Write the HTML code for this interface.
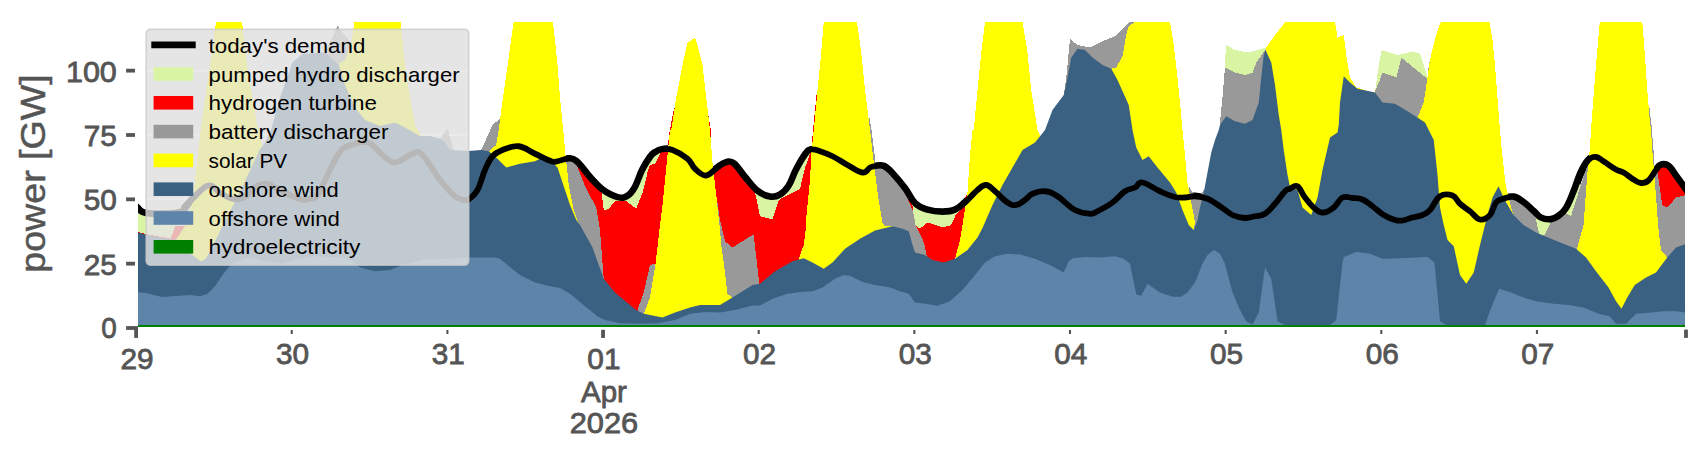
<!DOCTYPE html>
<html><head><meta charset="utf-8"><title>power dispatch</title>
<style>html,body{margin:0;padding:0;background:#ffffff}svg{display:block}text{font-family:"Liberation Sans",sans-serif}</style></head><body>
<svg width="1706" height="460" viewBox="0 0 1706 460">
<defs><clipPath id="plot"><rect x="138" y="22" width="1547" height="305"/></clipPath></defs>
<rect x="0" y="0" width="1706" height="460" fill="#ffffff"/>
<g clip-path="url(#plot)" shape-rendering="crispEdges">
<rect x="146.2" y="29.4" width="322.5" height="235.7" rx="4" fill="#e5e5e5"/>
<line x1="146.2" x2="468.7" y1="70.7" y2="70.7" stroke="#ffffff" stroke-width="2.2"/>
<line x1="146.2" x2="468.7" y1="135.0" y2="135.0" stroke="#ffffff" stroke-width="2.2"/>
<line x1="146.2" x2="468.7" y1="199.3" y2="199.3" stroke="#ffffff" stroke-width="2.2"/>
<line x1="146.2" x2="468.7" y1="263.7" y2="263.7" stroke="#ffffff" stroke-width="2.2"/>
<path d="M132.00,203.00C133.00,203.90 134.00,205.40 137.00,207.50C140.00,209.60 138.50,212.50 147.00,213.50C155.50,214.50 171.50,214.20 179.50,212.50C187.50,210.80 181.50,210.30 187.00,205.00C192.50,199.70 200.50,188.50 207.00,186.00C213.50,183.50 214.50,189.95 219.50,192.50C224.50,195.05 227.00,197.75 232.00,198.75C237.00,199.75 240.00,199.75 244.50,197.50C249.00,195.25 250.25,190.25 254.50,187.50C258.75,184.75 261.25,183.50 265.75,183.75C270.25,184.00 271.75,186.30 277.00,188.75C282.25,191.20 286.90,193.75 292.00,196.00C297.10,198.25 299.00,199.45 302.50,200.00C306.00,200.55 306.50,199.75 309.50,198.75C312.50,197.75 313.40,200.75 317.50,195.00C321.60,189.25 325.60,178.50 330.00,170.00C334.40,161.50 336.00,157.25 339.50,152.50C343.00,147.75 341.90,148.25 347.50,146.25C353.10,144.25 360.50,140.75 367.50,142.50C374.50,144.25 377.00,151.00 382.50,155.00C388.00,159.00 389.00,162.75 395.00,162.50C401.00,162.25 407.00,155.25 412.50,153.75C418.00,152.25 417.00,149.75 422.50,155.00C428.00,160.25 433.50,171.75 440.00,180.00C446.50,188.25 450.00,192.25 455.00,196.25C460.00,200.25 462.10,199.50 465.00,200.00C467.90,200.50 467.00,200.75 469.50,198.75C472.00,196.75 474.40,195.75 477.50,190.00C480.60,184.25 482.00,176.75 485.00,170.00C488.00,163.25 489.00,160.25 492.50,156.25C496.00,152.25 497.25,152.00 502.50,150.00C507.75,148.00 512.25,145.50 518.75,146.25C525.25,147.00 528.50,150.75 535.00,153.75C541.50,156.75 546.75,159.75 551.25,161.25C555.75,162.75 554.25,161.75 557.50,161.25C560.75,160.75 563.75,158.75 567.50,158.75C571.25,158.75 571.75,157.50 576.25,161.25C580.75,165.00 584.75,171.75 590.00,177.50C595.25,183.25 597.00,186.00 602.50,190.00C608.00,194.00 612.50,196.25 617.50,197.50C622.50,198.75 624.00,198.25 627.50,196.25C631.00,194.25 632.00,192.75 635.00,187.50C638.00,182.25 639.50,176.00 642.50,170.00C645.50,164.00 647.50,161.00 650.00,157.50C652.50,154.00 652.50,154.10 655.00,152.50C657.50,150.90 659.00,150.00 662.50,149.50C666.00,149.00 667.50,148.15 672.50,150.00C677.50,151.85 683.00,155.00 687.50,158.75C692.00,162.50 691.30,165.40 695.00,168.75C698.70,172.10 701.50,175.75 706.00,175.50C710.50,175.25 713.45,170.10 717.50,167.50C721.55,164.90 723.00,163.25 726.25,162.50C729.50,161.75 730.00,160.75 733.75,163.75C737.50,166.75 740.25,172.00 745.00,177.50C749.75,183.00 752.50,187.35 757.50,191.25C762.50,195.15 765.50,196.25 770.00,197.00C774.50,197.75 776.25,197.15 780.00,195.00C783.75,192.85 785.50,191.25 788.75,186.25C792.00,181.25 793.00,176.25 796.25,170.00C799.50,163.75 802.00,159.10 805.00,155.00C808.00,150.90 808.25,150.25 811.25,149.50C814.25,148.75 815.75,149.90 820.00,151.25C824.25,152.60 827.00,153.50 832.50,156.25C838.00,159.00 841.50,161.75 847.50,165.00C853.50,168.25 858.00,172.00 862.50,172.50C867.00,173.00 867.50,168.75 870.00,167.50C872.50,166.25 872.25,166.50 875.00,166.25C877.75,166.00 880.25,164.75 883.75,166.25C887.25,167.75 888.25,169.25 892.50,173.75C896.75,178.25 900.50,182.75 905.00,188.75C909.50,194.75 910.50,199.50 915.00,203.75C919.50,208.00 922.00,208.35 927.50,210.00C933.00,211.65 937.00,212.00 942.50,212.00C948.00,212.00 950.50,211.90 955.00,210.00C959.50,208.10 960.50,206.50 965.00,202.50C969.50,198.50 973.25,193.50 977.50,190.00C981.75,186.50 982.75,184.75 986.25,185.00C989.75,185.25 990.75,187.75 995.00,191.25C999.25,194.75 1003.25,199.75 1007.50,202.50C1011.75,205.25 1012.75,205.50 1016.25,205.00C1019.75,204.50 1021.75,202.25 1025.00,200.00C1028.25,197.75 1028.50,195.50 1032.50,193.75C1036.50,192.00 1040.00,190.75 1045.00,191.25C1050.00,191.75 1051.50,192.50 1057.50,196.25C1063.50,200.00 1068.50,206.50 1075.00,210.00C1081.50,213.50 1085.50,213.50 1090.00,213.75C1094.50,214.00 1093.00,213.50 1097.50,211.25C1102.00,209.00 1107.00,206.50 1112.50,202.50C1118.00,198.50 1120.50,194.25 1125.00,191.25C1129.50,188.25 1131.50,189.25 1135.00,187.50C1138.50,185.75 1137.50,181.75 1142.50,182.50C1147.50,183.25 1153.50,188.35 1160.00,191.25C1166.50,194.15 1170.00,195.75 1175.00,197.00C1180.00,198.25 1181.00,197.65 1185.00,197.50C1189.00,197.35 1190.50,196.00 1195.00,196.25C1199.50,196.50 1202.50,196.75 1207.50,198.75C1212.50,200.75 1215.00,203.00 1220.00,206.25C1225.00,209.50 1227.50,212.65 1232.50,215.00C1237.50,217.35 1240.50,217.75 1245.00,218.00C1249.50,218.25 1251.00,217.10 1255.00,216.25C1259.00,215.40 1261.00,216.25 1265.00,213.75C1269.00,211.25 1271.00,208.25 1275.00,203.75C1279.00,199.25 1282.00,194.25 1285.00,191.25C1288.00,188.25 1287.50,189.75 1290.00,188.75C1292.50,187.75 1294.50,184.50 1297.50,186.25C1300.50,188.00 1301.50,193.00 1305.00,197.50C1308.50,202.00 1311.25,205.75 1315.00,208.75C1318.75,211.75 1320.00,212.75 1323.75,212.50C1327.50,212.25 1330.00,210.50 1333.75,207.50C1337.50,204.50 1338.75,199.40 1342.50,197.50C1346.25,195.60 1348.50,197.60 1352.50,198.00C1356.50,198.40 1358.50,197.85 1362.50,199.50C1366.50,201.15 1368.25,203.15 1372.50,206.25C1376.75,209.35 1379.25,212.25 1383.75,215.00C1388.25,217.75 1391.25,218.90 1395.00,220.00C1398.75,221.10 1399.00,221.00 1402.50,220.50C1406.00,220.00 1408.50,218.60 1412.50,217.50C1416.50,216.40 1419.00,216.50 1422.50,215.00C1426.00,213.50 1426.50,213.75 1430.00,210.00C1433.50,206.25 1435.50,199.15 1440.00,196.25C1444.50,193.35 1448.50,194.00 1452.50,195.50C1456.50,197.00 1456.50,200.60 1460.00,203.75C1463.50,206.90 1466.00,208.10 1470.00,211.25C1474.00,214.40 1476.00,218.75 1480.00,219.50C1484.00,220.25 1486.80,218.40 1490.00,215.00C1493.20,211.60 1493.30,205.75 1496.00,202.50C1498.70,199.25 1500.00,199.85 1503.50,198.75C1507.00,197.65 1509.50,196.25 1513.50,197.00C1517.50,197.75 1519.50,199.65 1523.50,202.50C1527.50,205.35 1530.00,208.15 1533.50,211.25C1537.00,214.35 1537.50,216.35 1541.00,218.00C1544.50,219.65 1547.50,219.85 1551.00,219.50C1554.50,219.15 1555.50,218.40 1558.50,216.25C1561.50,214.10 1563.00,213.50 1566.00,208.75C1569.00,204.00 1570.50,199.75 1573.50,192.50C1576.50,185.25 1578.00,179.00 1581.00,172.50C1584.00,166.00 1585.50,163.10 1588.50,160.00C1591.50,156.90 1593.00,156.75 1596.00,157.00C1599.00,157.25 1599.50,158.75 1603.50,161.25C1607.50,163.75 1612.00,167.25 1616.00,169.50C1620.00,171.75 1620.00,170.50 1623.50,172.50C1627.00,174.50 1630.00,177.40 1633.50,179.50C1637.00,181.60 1638.00,182.80 1641.00,183.00C1644.00,183.20 1645.50,183.10 1648.50,180.50C1651.50,177.90 1653.50,173.10 1656.00,170.00C1658.50,166.90 1658.50,165.75 1661.00,165.00C1663.50,164.25 1665.50,164.00 1668.50,166.25C1671.50,168.50 1672.50,171.50 1676.00,176.25C1679.50,181.00 1683.20,186.05 1686.00,190.00C1688.80,193.95 1689.20,194.80 1690.00,196.00" fill="none" stroke="#000000" stroke-width="7.4" stroke-linejoin="round" shape-rendering="geometricPrecision"/>
<polygon points="132.00,203.00 137.00,207.50 147.00,213.50 177.00,212.58 177.00,225.00 177.00,330.00 132.00,330.00" fill="#d9f5a4"/>
<polygon points="598.00,185.50 602.50,190.00 617.50,197.50 627.50,196.25 635.00,187.50 642.50,170.00 650.00,157.50 655.00,152.50 660.00,150.50 660.00,330.00 598.00,330.00" fill="#d9f5a4"/>
<polygon points="752.00,185.20 757.50,191.25 770.00,197.00 780.00,195.00 788.75,186.25 796.25,170.00 805.00,155.00 809.50,151.04 809.50,330.00 752.00,330.00" fill="#d9f5a4"/>
<polygon points="910.00,196.25 915.00,203.75 927.50,210.00 942.50,212.00 955.00,210.00 965.00,202.50 967.00,200.50 967.00,330.00 910.00,330.00" fill="#d9f5a4"/>
<polygon points="1224.50,65.00 1226.25,45.00 1235.00,50.00 1247.50,52.50 1257.50,50.00 1266.25,47.50 1267.00,47.50 1267.00,330.00 1224.50,330.00" fill="#d9f5a4"/>
<polygon points="1375.00,91.25 1378.75,65.00 1381.75,50.00 1390.00,52.50 1397.50,55.00 1412.50,51.25 1420.00,53.75 1423.75,65.00 1427.50,77.50 1428.00,77.50 1428.00,330.00 1375.00,330.00" fill="#d9f5a4"/>
<polygon points="1531.00,209.06 1533.50,211.25 1541.00,218.00 1551.00,219.50 1558.50,216.25 1566.00,208.75 1573.50,192.50 1580.00,175.17 1580.00,330.00 1531.00,330.00" fill="#d9f5a4"/>
<polygon points="130.00,231.50 136.00,231.50 146.60,234.20 170.70,238.60 175.30,226.40 184.50,225.50 186.00,225.50 186.00,330.00 130.00,330.00" fill="#ff0000"/>
<polygon points="573.00,160.32 576.25,161.25 590.00,177.50 601.00,188.50 603.75,210.50 608.75,208.75 615.00,201.25 626.25,201.25 636.25,208.75 642.50,192.50 647.50,172.50 650.00,165.00 655.00,163.75 658.75,156.25 662.50,150.00 667.50,150.00 669.00,135.00 674.00,108.00 675.00,108.00 675.00,330.00 573.00,330.00" fill="#ff0000"/>
<polygon points="707.30,108.00 710.80,130.00 711.50,171.67 717.50,167.50 726.25,162.50 733.75,163.75 745.00,177.50 754.00,187.40 760.00,216.25 772.50,219.50 778.75,200.00 792.50,192.50 800.00,188.75 805.00,167.50 808.75,157.50 811.25,150.00 813.00,130.00 816.50,95.00 817.50,95.00 817.50,330.00 707.30,330.00" fill="#ff0000"/>
<polygon points="878.00,166.25 883.75,166.25 892.50,173.75 905.00,188.75 912.00,199.25 913.75,223.75 920.00,228.75 927.50,222.50 942.50,227.50 951.25,225.00 956.25,213.75 962.50,207.50 965.00,197.50 967.50,193.00 968.00,193.00 968.00,330.00 878.00,330.00" fill="#ff0000"/>
<polygon points="1654.00,172.80 1656.00,170.00 1661.00,165.00 1668.50,166.25 1676.00,176.25 1686.00,190.00 1690.00,196.00 1690.00,330.00 1654.00,330.00" fill="#ff0000"/>
<polygon points="320.00,54.00 325.00,52.50 337.50,26.25 351.25,43.00 353.00,43.00 353.00,330.00 320.00,330.00" fill="#999999"/>
<polygon points="440.00,138.75 447.50,128.75 453.75,150.00 453.75,330.00 440.00,330.00" fill="#999999"/>
<polygon points="481.25,150.00 492.50,125.00 500.00,118.75 501.00,118.75 501.00,330.00 481.25,330.00" fill="#999999"/>
<polygon points="563.00,140.00 565.00,150.00 566.00,159.12 567.50,158.75 575.00,160.89 585.00,186.25 596.25,207.50 600.00,230.00 603.75,278.75 603.75,330.00 563.00,330.00" fill="#999999"/>
<polygon points="637.50,310.00 643.75,292.50 650.00,265.00 655.50,263.75 655.50,330.00 637.50,330.00" fill="#999999"/>
<polygon points="714.00,180.00 716.25,195.00 720.00,220.00 725.00,241.25 732.50,247.50 752.50,235.00 753.75,235.00 759.25,283.75 759.25,330.00 714.00,330.00" fill="#999999"/>
<polygon points="869.00,115.00 871.50,130.00 875.00,158.00 875.50,166.25 883.75,166.25 892.50,173.75 893.00,174.35 906.00,195.00 913.00,211.00 915.50,225.00 919.50,232.50 923.00,240.00 924.50,245.00 926.50,255.00 926.50,330.00 869.00,330.00" fill="#999999"/>
<polygon points="1063.75,95.00 1066.25,77.50 1070.00,38.75 1077.50,45.00 1090.00,47.50 1102.50,41.25 1115.00,36.25 1122.50,28.75 1128.75,22.50 1135.00,21.50 1135.50,21.50 1135.50,330.00 1063.75,330.00" fill="#999999"/>
<polygon points="1188.75,185.00 1192.50,193.00 1200.00,195.00 1203.75,190.00 1203.75,330.00 1188.75,330.00" fill="#999999"/>
<polygon points="1219.50,130.00 1220.00,122.50 1222.50,97.50 1225.00,67.50 1235.00,72.50 1245.00,75.00 1252.50,72.50 1256.25,62.50 1262.50,53.75 1266.25,48.75 1266.25,330.00 1219.50,330.00" fill="#999999"/>
<polygon points="1375.00,91.25 1378.75,82.50 1382.50,72.50 1396.25,77.50 1401.25,57.50 1415.00,68.75 1427.50,78.75 1428.75,65.00 1433.75,43.75 1434.00,43.75 1434.00,330.00 1375.00,330.00" fill="#999999"/>
<polygon points="1500.00,130.00 1502.25,155.00 1505.00,185.00 1505.50,198.40 1513.50,197.00 1523.50,202.50 1533.50,211.25 1534.00,211.70 1539.75,236.25 1544.75,235.00 1551.00,221.25 1566.00,213.75 1571.00,216.25 1578.50,192.50 1588.50,162.50 1589.75,150.00 1591.00,130.00 1592.00,130.00 1592.00,330.00 1500.00,330.00" fill="#999999"/>
<polygon points="1648.50,100.00 1651.50,125.00 1653.50,150.00 1654.50,172.10 1656.00,170.00 1657.00,169.00 1662.25,205.00 1667.25,207.50 1676.00,197.50 1686.00,195.00 1690.00,195.00 1690.00,330.00 1648.50,330.00" fill="#999999"/>
<polygon points="176.20,239.40 185.50,225.50 192.90,200.50 198.25,150.00 200.75,130.00 204.50,102.50 212.00,52.50 216.00,22.00 217.00,15.00 241.00,15.00 242.00,22.00 247.00,65.00 254.50,110.00 257.00,125.00 262.00,145.00 262.00,330.00 176.20,330.00" fill="#ffff00"/>
<polygon points="338.75,63.75 345.00,60.00 351.25,43.00 354.50,22.00 355.20,15.00 400.00,15.00 400.75,22.00 405.00,65.00 410.00,97.50 415.00,125.00 421.25,136.00 421.25,330.00 338.75,330.00" fill="#ffff00"/>
<polygon points="488.75,151.25 496.25,145.00 498.75,130.00 501.25,110.00 504.60,86.80 513.60,22.00 514.50,15.00 552.50,15.00 553.00,22.00 555.00,40.00 557.50,65.00 560.00,97.50 563.75,135.00 565.00,150.00 568.75,185.00 573.75,210.00 577.50,221.00 580.00,226.00 580.00,330.00 488.75,330.00" fill="#ffff00"/>
<polygon points="643.75,313.75 650.00,297.50 655.50,263.75 657.70,245.00 660.00,225.00 662.50,205.00 667.50,155.00 670.00,130.00 671.25,130.00 676.25,97.50 682.50,65.00 687.50,42.50 692.00,39.50 695.00,38.00 697.50,45.00 702.50,65.00 706.25,97.50 710.00,130.00 712.50,162.50 716.25,195.00 720.00,230.00 721.25,245.00 723.75,262.50 727.50,293.75 732.50,297.50 732.50,330.00 643.75,330.00" fill="#ffff00"/>
<polygon points="798.75,258.75 803.75,245.00 806.25,225.00 806.25,217.50 810.00,180.00 811.25,155.00 813.75,130.00 817.50,90.00 821.25,52.50 823.75,22.00 824.30,15.00 856.30,15.00 857.00,22.00 861.25,52.50 865.00,90.00 870.00,130.00 873.75,162.50 877.50,192.50 882.50,222.50 885.00,226.25 892.50,226.25 892.50,330.00 798.75,330.00" fill="#ffff00"/>
<polygon points="955.00,258.75 960.00,240.00 962.50,225.00 967.50,192.50 970.00,155.00 972.50,130.00 973.75,130.00 977.50,90.00 981.25,52.50 985.00,22.00 985.80,15.00 1021.50,15.00 1022.50,22.00 1027.50,52.50 1031.25,90.00 1037.50,130.00 1041.00,137.00 1041.00,330.00 955.00,330.00" fill="#ffff00"/>
<polygon points="1111.25,68.75 1116.25,67.50 1122.50,56.25 1126.25,35.00 1128.75,26.00 1135.00,22.00 1135.50,15.00 1169.50,15.00 1170.00,22.00 1173.75,45.00 1177.50,77.50 1180.00,102.50 1182.50,130.00 1185.00,155.00 1187.50,182.50 1191.25,202.50 1195.00,222.50 1193.75,230.00 1193.75,330.00 1111.25,330.00" fill="#ffff00"/>
<polygon points="1265.50,50.00 1266.25,47.50 1275.00,35.00 1285.00,22.50 1290.00,15.00 1334.00,15.00 1335.00,22.00 1337.50,37.50 1343.75,35.00 1346.25,55.00 1350.00,77.50 1356.25,87.50 1372.50,92.50 1375.00,92.00 1375.00,330.00 1265.50,330.00" fill="#ffff00"/>
<polygon points="1417.50,117.50 1423.75,102.50 1427.50,77.50 1430.00,60.00 1433.75,43.75 1435.00,38.75 1440.00,23.75 1441.25,22.00 1443.00,15.00 1488.50,15.00 1489.50,22.00 1492.50,40.00 1495.00,65.00 1497.50,97.50 1500.00,130.00 1502.25,155.00 1506.00,187.50 1511.00,207.50 1513.50,215.00 1513.50,330.00 1417.50,330.00" fill="#ffff00"/>
<polygon points="1577.25,247.50 1583.50,225.00 1587.25,175.00 1589.75,150.00 1591.00,130.00 1593.50,97.50 1596.00,65.00 1599.75,22.00 1600.30,15.00 1641.70,15.00 1642.25,22.00 1644.75,52.50 1647.25,90.00 1649.75,120.00 1651.00,130.00 1652.25,150.00 1654.75,180.00 1657.25,212.50 1658.00,225.00 1661.00,250.00 1667.25,257.50 1667.25,330.00 1577.25,330.00" fill="#ffff00"/>
<polygon points="130.00,232.00 136.00,232.00 146.60,234.70 170.70,239.40 176.20,239.40 191.00,254.00 201.00,261.50 205.80,258.80 216.90,237.50 229.50,212.50 242.00,187.50 259.50,150.00 265.00,142.50 271.00,130.00 280.00,97.50 292.50,62.50 302.50,53.75 325.00,52.50 332.50,58.75 338.75,65.00 345.00,85.00 355.00,107.50 365.00,120.00 380.00,126.00 395.00,122.50 405.00,127.50 420.00,136.00 430.00,136.00 440.00,138.75 445.00,142.50 450.00,150.00 468.75,151.00 481.25,150.00 488.75,151.25 497.50,158.75 506.25,167.50 520.00,163.75 535.00,161.25 542.50,157.50 550.00,160.00 557.50,167.50 562.50,182.50 570.00,205.00 576.25,220.00 580.00,225.00 592.50,247.50 603.75,278.75 615.00,292.50 636.00,310.00 643.75,313.75 662.50,317.50 675.00,312.50 690.00,307.50 700.00,305.00 720.00,305.00 732.50,297.50 752.50,285.00 760.00,283.75 775.00,271.25 792.50,261.25 803.75,258.25 812.50,262.50 823.75,268.75 832.50,262.50 845.00,248.75 860.00,238.75 875.00,230.50 892.50,226.25 902.50,228.75 908.75,231.25 912.50,245.00 915.00,252.50 925.00,255.00 932.50,260.00 943.75,262.50 955.00,258.75 967.50,250.00 977.50,237.50 982.50,228.00 992.50,205.00 1002.50,185.00 1012.50,167.50 1022.50,150.00 1035.00,142.50 1045.00,130.00 1052.50,110.00 1063.75,95.00 1067.50,77.50 1071.25,57.50 1077.50,48.75 1085.00,50.00 1092.50,57.50 1102.50,65.00 1111.25,68.75 1117.50,80.00 1128.75,105.00 1132.50,130.00 1136.25,147.50 1142.50,160.00 1148.75,156.25 1157.50,167.50 1170.00,182.50 1176.25,192.50 1182.50,210.00 1188.75,225.00 1193.75,230.00 1197.50,220.00 1200.00,207.50 1203.75,192.50 1207.50,172.50 1211.25,152.50 1215.00,140.00 1218.75,130.00 1220.00,125.00 1226.25,116.25 1235.00,121.25 1245.00,123.75 1252.50,120.00 1258.75,102.50 1261.25,77.50 1263.75,55.00 1265.50,50.00 1271.25,62.50 1275.00,85.00 1278.75,115.00 1281.25,130.00 1283.75,150.00 1287.50,175.00 1290.00,187.00 1297.50,190.00 1302.50,207.50 1311.25,215.00 1317.50,197.50 1322.50,170.00 1330.00,137.50 1337.50,132.50 1338.75,125.00 1340.00,102.50 1343.75,76.25 1350.00,82.50 1357.50,88.75 1375.00,92.50 1382.50,102.50 1395.00,103.75 1407.50,111.25 1417.50,117.50 1425.00,122.50 1428.75,130.00 1433.75,140.00 1437.50,175.00 1440.00,207.50 1443.75,225.00 1447.50,240.00 1453.75,246.25 1460.00,275.00 1466.25,283.75 1473.75,272.50 1480.00,245.00 1485.00,225.00 1487.50,215.00 1492.50,197.50 1498.50,186.25 1504.75,200.00 1513.50,215.00 1523.50,225.00 1536.00,232.50 1551.00,238.75 1576.00,248.75 1586.00,257.50 1596.00,271.25 1608.50,287.50 1616.00,301.25 1621.50,308.75 1627.25,297.50 1634.75,285.00 1646.00,277.50 1656.00,272.50 1667.25,257.50 1676.00,247.50 1686.00,243.75 1690.00,243.75 1690.00,330.00 130.00,330.00" fill="#3b6182" shape-rendering="geometricPrecision"/>
<polygon points="130.00,292.00 136.00,292.00 146.00,293.00 162.00,297.00 190.00,295.00 200.00,296.25 207.50,293.75 215.00,286.25 222.50,275.00 232.50,262.50 250.00,257.50 265.00,261.25 282.50,263.75 297.50,258.75 315.00,256.25 340.00,257.50 352.50,261.25 360.00,267.50 375.00,271.25 390.00,270.00 405.00,264.00 425.00,259.50 450.00,258.75 468.75,257.50 495.00,257.50 500.00,258.75 507.50,265.00 520.00,275.00 535.00,282.50 550.00,286.25 560.00,288.00 570.00,293.75 585.00,306.25 597.50,316.25 605.00,320.00 620.00,323.25 640.00,323.75 657.50,323.25 675.00,320.00 690.00,313.75 705.00,312.00 720.00,312.50 735.00,310.00 752.50,305.50 760.00,305.50 772.50,298.75 787.50,293.75 800.00,292.00 812.50,291.25 822.50,287.50 835.00,278.75 843.75,275.00 850.00,275.75 862.50,282.00 875.00,285.00 890.00,287.50 900.00,291.25 908.75,293.75 915.00,302.50 925.00,303.75 937.50,305.75 950.00,301.25 962.50,290.00 975.00,275.00 985.00,262.50 995.00,256.25 1007.50,253.75 1020.00,254.50 1035.00,258.75 1050.00,265.00 1063.75,272.50 1068.75,261.25 1072.50,258.25 1085.00,257.00 1100.00,257.50 1115.00,256.25 1123.75,258.75 1130.00,263.75 1136.25,294.50 1141.25,295.75 1147.50,283.75 1160.00,292.50 1172.50,296.75 1181.25,296.75 1187.50,292.50 1195.00,282.50 1202.50,263.75 1207.50,255.00 1213.75,250.00 1220.00,253.75 1225.00,263.75 1232.50,292.50 1240.00,310.00 1246.25,321.25 1252.50,324.50 1258.75,312.50 1265.00,267.50 1271.25,278.75 1277.50,321.25 1285.00,325.00 1330.00,325.00 1336.25,320.00 1342.50,262.50 1343.75,257.00 1356.25,252.00 1370.00,253.75 1382.50,258.75 1400.00,258.25 1417.50,257.50 1427.50,257.00 1434.50,262.50 1440.00,321.25 1446.25,325.00 1485.00,325.00 1490.00,311.00 1499.00,288.75 1511.00,292.50 1523.50,297.50 1536.00,301.25 1553.50,303.75 1568.50,305.00 1583.50,307.50 1598.50,313.75 1609.75,316.25 1616.00,323.75 1626.00,323.75 1636.00,313.75 1651.00,312.50 1663.50,311.25 1676.00,311.25 1686.00,312.50 1690.00,312.50 1690.00,330.00 130.00,330.00" fill="#5d85a9" shape-rendering="geometricPrecision"/>
<rect x="130" y="324.8" width="1560" height="6" fill="#008000"/>
</g>
<g clip-path="url(#plot)">
<path d="M132.00,203.00C133.00,203.90 134.00,205.40 137.00,207.50C140.00,209.60 138.50,212.50 147.00,213.50C155.50,214.50 171.50,214.20 179.50,212.50C187.50,210.80 181.50,210.30 187.00,205.00C192.50,199.70 200.50,188.50 207.00,186.00C213.50,183.50 214.50,189.95 219.50,192.50C224.50,195.05 227.00,197.75 232.00,198.75C237.00,199.75 240.00,199.75 244.50,197.50C249.00,195.25 250.25,190.25 254.50,187.50C258.75,184.75 261.25,183.50 265.75,183.75C270.25,184.00 271.75,186.30 277.00,188.75C282.25,191.20 286.90,193.75 292.00,196.00C297.10,198.25 299.00,199.45 302.50,200.00C306.00,200.55 306.50,199.75 309.50,198.75C312.50,197.75 313.40,200.75 317.50,195.00C321.60,189.25 325.60,178.50 330.00,170.00C334.40,161.50 336.00,157.25 339.50,152.50C343.00,147.75 341.90,148.25 347.50,146.25C353.10,144.25 360.50,140.75 367.50,142.50C374.50,144.25 377.00,151.00 382.50,155.00C388.00,159.00 389.00,162.75 395.00,162.50C401.00,162.25 407.00,155.25 412.50,153.75C418.00,152.25 417.00,149.75 422.50,155.00C428.00,160.25 433.50,171.75 440.00,180.00C446.50,188.25 450.00,192.25 455.00,196.25C460.00,200.25 462.10,199.50 465.00,200.00C467.90,200.50 467.00,200.75 469.50,198.75C472.00,196.75 474.40,195.75 477.50,190.00C480.60,184.25 482.00,176.75 485.00,170.00C488.00,163.25 489.00,160.25 492.50,156.25C496.00,152.25 497.25,152.00 502.50,150.00C507.75,148.00 512.25,145.50 518.75,146.25C525.25,147.00 528.50,150.75 535.00,153.75C541.50,156.75 546.75,159.75 551.25,161.25C555.75,162.75 554.25,161.75 557.50,161.25C560.75,160.75 563.75,158.75 567.50,158.75C571.25,158.75 571.75,157.50 576.25,161.25C580.75,165.00 584.75,171.75 590.00,177.50C595.25,183.25 597.00,186.00 602.50,190.00C608.00,194.00 612.50,196.25 617.50,197.50C622.50,198.75 624.00,198.25 627.50,196.25C631.00,194.25 632.00,192.75 635.00,187.50C638.00,182.25 639.50,176.00 642.50,170.00C645.50,164.00 647.50,161.00 650.00,157.50C652.50,154.00 652.50,154.10 655.00,152.50C657.50,150.90 659.00,150.00 662.50,149.50C666.00,149.00 667.50,148.15 672.50,150.00C677.50,151.85 683.00,155.00 687.50,158.75C692.00,162.50 691.30,165.40 695.00,168.75C698.70,172.10 701.50,175.75 706.00,175.50C710.50,175.25 713.45,170.10 717.50,167.50C721.55,164.90 723.00,163.25 726.25,162.50C729.50,161.75 730.00,160.75 733.75,163.75C737.50,166.75 740.25,172.00 745.00,177.50C749.75,183.00 752.50,187.35 757.50,191.25C762.50,195.15 765.50,196.25 770.00,197.00C774.50,197.75 776.25,197.15 780.00,195.00C783.75,192.85 785.50,191.25 788.75,186.25C792.00,181.25 793.00,176.25 796.25,170.00C799.50,163.75 802.00,159.10 805.00,155.00C808.00,150.90 808.25,150.25 811.25,149.50C814.25,148.75 815.75,149.90 820.00,151.25C824.25,152.60 827.00,153.50 832.50,156.25C838.00,159.00 841.50,161.75 847.50,165.00C853.50,168.25 858.00,172.00 862.50,172.50C867.00,173.00 867.50,168.75 870.00,167.50C872.50,166.25 872.25,166.50 875.00,166.25C877.75,166.00 880.25,164.75 883.75,166.25C887.25,167.75 888.25,169.25 892.50,173.75C896.75,178.25 900.50,182.75 905.00,188.75C909.50,194.75 910.50,199.50 915.00,203.75C919.50,208.00 922.00,208.35 927.50,210.00C933.00,211.65 937.00,212.00 942.50,212.00C948.00,212.00 950.50,211.90 955.00,210.00C959.50,208.10 960.50,206.50 965.00,202.50C969.50,198.50 973.25,193.50 977.50,190.00C981.75,186.50 982.75,184.75 986.25,185.00C989.75,185.25 990.75,187.75 995.00,191.25C999.25,194.75 1003.25,199.75 1007.50,202.50C1011.75,205.25 1012.75,205.50 1016.25,205.00C1019.75,204.50 1021.75,202.25 1025.00,200.00C1028.25,197.75 1028.50,195.50 1032.50,193.75C1036.50,192.00 1040.00,190.75 1045.00,191.25C1050.00,191.75 1051.50,192.50 1057.50,196.25C1063.50,200.00 1068.50,206.50 1075.00,210.00C1081.50,213.50 1085.50,213.50 1090.00,213.75C1094.50,214.00 1093.00,213.50 1097.50,211.25C1102.00,209.00 1107.00,206.50 1112.50,202.50C1118.00,198.50 1120.50,194.25 1125.00,191.25C1129.50,188.25 1131.50,189.25 1135.00,187.50C1138.50,185.75 1137.50,181.75 1142.50,182.50C1147.50,183.25 1153.50,188.35 1160.00,191.25C1166.50,194.15 1170.00,195.75 1175.00,197.00C1180.00,198.25 1181.00,197.65 1185.00,197.50C1189.00,197.35 1190.50,196.00 1195.00,196.25C1199.50,196.50 1202.50,196.75 1207.50,198.75C1212.50,200.75 1215.00,203.00 1220.00,206.25C1225.00,209.50 1227.50,212.65 1232.50,215.00C1237.50,217.35 1240.50,217.75 1245.00,218.00C1249.50,218.25 1251.00,217.10 1255.00,216.25C1259.00,215.40 1261.00,216.25 1265.00,213.75C1269.00,211.25 1271.00,208.25 1275.00,203.75C1279.00,199.25 1282.00,194.25 1285.00,191.25C1288.00,188.25 1287.50,189.75 1290.00,188.75C1292.50,187.75 1294.50,184.50 1297.50,186.25C1300.50,188.00 1301.50,193.00 1305.00,197.50C1308.50,202.00 1311.25,205.75 1315.00,208.75C1318.75,211.75 1320.00,212.75 1323.75,212.50C1327.50,212.25 1330.00,210.50 1333.75,207.50C1337.50,204.50 1338.75,199.40 1342.50,197.50C1346.25,195.60 1348.50,197.60 1352.50,198.00C1356.50,198.40 1358.50,197.85 1362.50,199.50C1366.50,201.15 1368.25,203.15 1372.50,206.25C1376.75,209.35 1379.25,212.25 1383.75,215.00C1388.25,217.75 1391.25,218.90 1395.00,220.00C1398.75,221.10 1399.00,221.00 1402.50,220.50C1406.00,220.00 1408.50,218.60 1412.50,217.50C1416.50,216.40 1419.00,216.50 1422.50,215.00C1426.00,213.50 1426.50,213.75 1430.00,210.00C1433.50,206.25 1435.50,199.15 1440.00,196.25C1444.50,193.35 1448.50,194.00 1452.50,195.50C1456.50,197.00 1456.50,200.60 1460.00,203.75C1463.50,206.90 1466.00,208.10 1470.00,211.25C1474.00,214.40 1476.00,218.75 1480.00,219.50C1484.00,220.25 1486.80,218.40 1490.00,215.00C1493.20,211.60 1493.30,205.75 1496.00,202.50C1498.70,199.25 1500.00,199.85 1503.50,198.75C1507.00,197.65 1509.50,196.25 1513.50,197.00C1517.50,197.75 1519.50,199.65 1523.50,202.50C1527.50,205.35 1530.00,208.15 1533.50,211.25C1537.00,214.35 1537.50,216.35 1541.00,218.00C1544.50,219.65 1547.50,219.85 1551.00,219.50C1554.50,219.15 1555.50,218.40 1558.50,216.25C1561.50,214.10 1563.00,213.50 1566.00,208.75C1569.00,204.00 1570.50,199.75 1573.50,192.50C1576.50,185.25 1578.00,179.00 1581.00,172.50C1584.00,166.00 1585.50,163.10 1588.50,160.00C1591.50,156.90 1593.00,156.75 1596.00,157.00C1599.00,157.25 1599.50,158.75 1603.50,161.25C1607.50,163.75 1612.00,167.25 1616.00,169.50C1620.00,171.75 1620.00,170.50 1623.50,172.50C1627.00,174.50 1630.00,177.40 1633.50,179.50C1637.00,181.60 1638.00,182.80 1641.00,183.00C1644.00,183.20 1645.50,183.10 1648.50,180.50C1651.50,177.90 1653.50,173.10 1656.00,170.00C1658.50,166.90 1658.50,165.75 1661.00,165.00C1663.50,164.25 1665.50,164.00 1668.50,166.25C1671.50,168.50 1672.50,171.50 1676.00,176.25C1679.50,181.00 1683.20,186.05 1686.00,190.00C1688.80,193.95 1689.20,194.80 1690.00,196.00" fill="none" stroke="#000000" stroke-width="5.8" stroke-linejoin="round" stroke-linecap="butt"/>
</g>
<rect x="146.2" y="29.4" width="322.5" height="235.7" rx="4" fill="#e5e5e5" fill-opacity="0.8" stroke="#cccccc" stroke-opacity="0.8" stroke-width="1.6"/>
<line x1="154.6" x2="192.4" y1="44.90" y2="44.90" stroke="#000" stroke-width="6.6" stroke-linecap="square"/>
<text x="208.6" y="52.80" font-size="20.3" fill="#000000" textLength="156.7" lengthAdjust="spacingAndGlyphs">today's demand</text>
<rect x="153.6" y="67.20" width="39.6" height="13.6" fill="#d9f5a4"/>
<text x="208.6" y="81.60" font-size="20.3" fill="#000000" textLength="251.0" lengthAdjust="spacingAndGlyphs">pumped hydro discharger</text>
<rect x="153.6" y="96.00" width="39.6" height="13.6" fill="#ff0000"/>
<text x="208.6" y="110.40" font-size="20.3" fill="#000000" textLength="168.4" lengthAdjust="spacingAndGlyphs">hydrogen turbine</text>
<rect x="153.6" y="124.80" width="39.6" height="13.6" fill="#999999"/>
<text x="208.6" y="139.20" font-size="20.3" fill="#000000" textLength="179.9" lengthAdjust="spacingAndGlyphs">battery discharger</text>
<rect x="153.6" y="153.60" width="39.6" height="13.6" fill="#ffff00"/>
<text x="208.6" y="168.00" font-size="20.3" fill="#000000" textLength="78.5" lengthAdjust="spacingAndGlyphs">solar PV</text>
<rect x="153.6" y="182.40" width="39.6" height="13.6" fill="#3b6182"/>
<text x="208.6" y="196.80" font-size="20.3" fill="#000000" textLength="130.2" lengthAdjust="spacingAndGlyphs">onshore wind</text>
<rect x="153.6" y="211.20" width="39.6" height="13.6" fill="#5d85a9"/>
<text x="208.6" y="225.60" font-size="20.3" fill="#000000" textLength="131.3" lengthAdjust="spacingAndGlyphs">offshore wind</text>
<rect x="153.6" y="240.00" width="39.6" height="13.6" fill="#008000"/>
<text x="208.6" y="254.40" font-size="20.3" fill="#000000" textLength="151.9" lengthAdjust="spacingAndGlyphs">hydroelectricity</text>
<line x1="126.1" x2="135" y1="328.0" y2="328.0" stroke="#555555" stroke-width="3.8"/>
<text x="101.33" y="338.00" font-size="29.3" fill="#555555" stroke="#555555" stroke-width="0.8" textLength="15.5" lengthAdjust="spacingAndGlyphs">0</text>
<line x1="126.1" x2="135" y1="263.66" y2="263.66" stroke="#555555" stroke-width="3.8"/>
<text x="83.65" y="274.70" font-size="29.3" fill="#555555" stroke="#555555" stroke-width="0.8" textLength="33.1" lengthAdjust="spacingAndGlyphs">25</text>
<line x1="126.1" x2="135" y1="199.33" y2="199.33" stroke="#555555" stroke-width="3.8"/>
<text x="83.65" y="210.40" font-size="29.3" fill="#555555" stroke="#555555" stroke-width="0.8" textLength="33.1" lengthAdjust="spacingAndGlyphs">50</text>
<line x1="126.1" x2="135" y1="134.99" y2="134.99" stroke="#555555" stroke-width="3.8"/>
<text x="83.65" y="146.20" font-size="29.3" fill="#555555" stroke="#555555" stroke-width="0.8" textLength="33.1" lengthAdjust="spacingAndGlyphs">75</text>
<line x1="126.1" x2="135" y1="70.65" y2="70.65" stroke="#555555" stroke-width="3.8"/>
<text x="65.98" y="81.90" font-size="29.3" fill="#555555" stroke="#555555" stroke-width="0.8" textLength="50.8" lengthAdjust="spacingAndGlyphs">100</text>
<line x1="136.10" x2="136.10" y1="326.1" y2="337.9" stroke="#555555" stroke-width="3.8"/>
<text x="120.43" y="369" font-size="29.3" fill="#555555" stroke="#555555" stroke-width="0.8" textLength="33.1" lengthAdjust="spacingAndGlyphs">29</text>
<line x1="291.75" x2="291.75" y1="330" y2="334" stroke="#555555" stroke-width="2.1"/>
<text x="276.08" y="364.4" font-size="29.3" fill="#555555" stroke="#555555" stroke-width="0.8" textLength="33.1" lengthAdjust="spacingAndGlyphs">30</text>
<line x1="447.40" x2="447.40" y1="330" y2="334" stroke="#555555" stroke-width="2.1"/>
<text x="431.73" y="364.4" font-size="29.3" fill="#555555" stroke="#555555" stroke-width="0.8" textLength="33.1" lengthAdjust="spacingAndGlyphs">31</text>
<line x1="603.05" x2="603.05" y1="329.8" y2="337.9" stroke="#555555" stroke-width="3.8"/>
<text x="587.38" y="369" font-size="29.3" fill="#555555" stroke="#555555" stroke-width="0.8" textLength="33.1" lengthAdjust="spacingAndGlyphs">01</text>
<line x1="758.70" x2="758.70" y1="330" y2="334" stroke="#555555" stroke-width="2.1"/>
<text x="743.03" y="364.4" font-size="29.3" fill="#555555" stroke="#555555" stroke-width="0.8" textLength="33.1" lengthAdjust="spacingAndGlyphs">02</text>
<line x1="914.35" x2="914.35" y1="330" y2="334" stroke="#555555" stroke-width="2.1"/>
<text x="898.68" y="364.4" font-size="29.3" fill="#555555" stroke="#555555" stroke-width="0.8" textLength="33.1" lengthAdjust="spacingAndGlyphs">03</text>
<line x1="1070.00" x2="1070.00" y1="330" y2="334" stroke="#555555" stroke-width="2.1"/>
<text x="1054.33" y="364.4" font-size="29.3" fill="#555555" stroke="#555555" stroke-width="0.8" textLength="33.1" lengthAdjust="spacingAndGlyphs">04</text>
<line x1="1225.65" x2="1225.65" y1="330" y2="334" stroke="#555555" stroke-width="2.1"/>
<text x="1209.98" y="364.4" font-size="29.3" fill="#555555" stroke="#555555" stroke-width="0.8" textLength="33.1" lengthAdjust="spacingAndGlyphs">05</text>
<line x1="1381.30" x2="1381.30" y1="330" y2="334" stroke="#555555" stroke-width="2.1"/>
<text x="1365.63" y="364.4" font-size="29.3" fill="#555555" stroke="#555555" stroke-width="0.8" textLength="33.1" lengthAdjust="spacingAndGlyphs">06</text>
<line x1="1536.95" x2="1536.95" y1="330" y2="334" stroke="#555555" stroke-width="2.1"/>
<text x="1521.28" y="364.4" font-size="29.3" fill="#555555" stroke="#555555" stroke-width="0.8" textLength="33.1" lengthAdjust="spacingAndGlyphs">07</text>
<line x1="1686" x2="1686" y1="329.6" y2="337.9" stroke="#555555" stroke-width="3.8"/>
<text x="581.02" y="401.5" font-size="29.3" fill="#555555" stroke="#555555" stroke-width="0.8" textLength="45.9" lengthAdjust="spacingAndGlyphs">Apr</text>
<text x="569.70" y="433.3" font-size="29.3" fill="#555555" stroke="#555555" stroke-width="0.8" textLength="68.5" lengthAdjust="spacingAndGlyphs">2026</text>
<text transform="translate(45.2,272.70) rotate(-90)" x="0" y="0" font-size="34.8" fill="#555555" stroke="#555555" stroke-width="0.5" textLength="198.4" lengthAdjust="spacingAndGlyphs">power [GW]</text>
</svg>
</body></html>
